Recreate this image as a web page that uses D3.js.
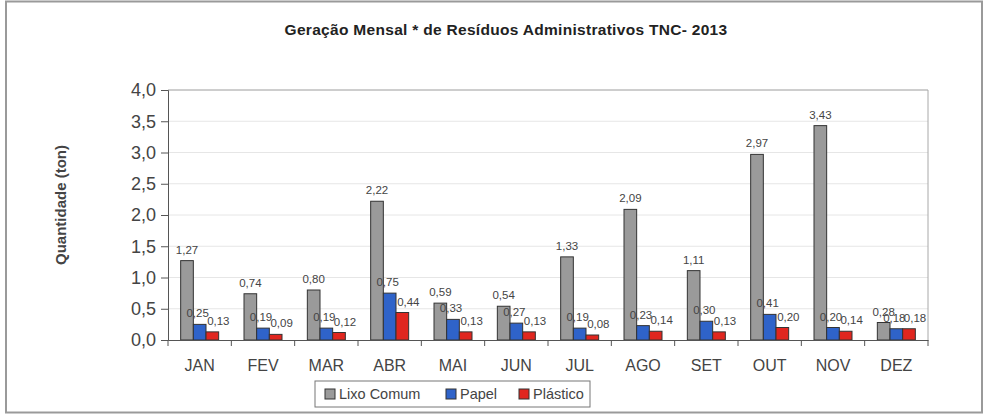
<!DOCTYPE html>
<html>
<head>
<meta charset="utf-8">
<script src="https://cdn.jsdelivr.net/npm/d3@7"></script>
<style>
  body { margin: 0; background: #fff; }
  svg { font-family: "Liberation Sans", Arial, sans-serif; }
</style>
</head>
<body>
<svg width="989" height="416"></svg>
<script>
// dados do grafico
var meses = ["JAN", "FEV", "MAR", "ABR", "MAI", "JUN", "JUL", "AGO", "SET", "OUT", "NOV", "DEZ"]
var lixoComum = [1.27, 0.74, 0.80, 2.22, 0.59, 0.54, 1.33, 2.09, 1.11, 2.97, 3.43, 0.28]
var papel = [0.25, 0.19, 0.19, 0.75, 0.33, 0.27, 0.19, 0.23, 0.30, 0.41, 0.20, 0.18]
var plastico = [0.13, 0.09, 0.12, 0.44, 0.13, 0.13, 0.08, 0.14, 0.13, 0.20, 0.14, 0.18]
var series = ["Lixo Comum", "Papel", "Plástico"]
var yTicks = [0, 0.5, 1, 1.5, 2, 2.5, 3, 3.5, 4]

var cores = ["#9a9a9a", "#2f63c9", "#e0261f"]
var fmt = function (v) { return d3.format(".2f")(v).replace(".", ",") }

var svg = d3.select("svg")

// moldura externa
svg.append("rect")
    .attr("x", 6).attr("y", 1.5).attr("width", 976).attr("height", 411)
    .attr("fill", "none").attr("stroke", "#9a9a9a").attr("stroke-width", 2)

var pLeft = 168, pRight = 928, pTop = 90, pBottom = 340

var x = d3.scaleBand().domain(meses).range([pLeft, pRight])
var xs = d3.scaleBand().domain(series).range([0, 38])
var y = d3.scaleLinear().domain([0, 4]).range([pBottom, pTop])

// grade
svg.append("g")
    .selectAll("line")
    .data(yTicks.slice(1))
    .enter()
    .append("line")
    .attr("x1", pLeft).attr("x2", pRight)
    .attr("y1", function (d) { return y(d) })
    .attr("y2", function (d) { return y(d) })
    .attr("stroke", "#e6e6e6")

// borda da area de plotagem (topo e direita)
svg.append("path")
    .attr("d", "M" + pLeft + "," + pTop + "H" + pRight + "V" + pBottom)
    .attr("fill", "none").attr("stroke", "#a8a8a8")

var data = meses.map(function (m, i) {
    return { mes: m, vals: [lixoComum[i], papel[i], plastico[i]] }
})

var g = svg.selectAll(".grupo")
    .data(data)
    .enter()
    .append("g")
    .attr("class", "grupo")
    .attr("transform", function (d) {
        return "translate(" + (x(d.mes) + x.bandwidth() / 2 - 19) + ",0)"
    })

g.selectAll("rect")
    .data(function (d) { return d.vals })
    .enter()
    .append("rect")
    .attr("x", function (d, i) { return xs(series[i]) })
    .attr("width", xs.bandwidth())
    .attr("y", function (d) { return y(d) })
    .attr("height", function (d) { return pBottom - y(d) })
    .attr("fill", function (d, i) { return cores[i] })
    .attr("stroke", "#333")
    .attr("stroke-width", 1)

var desloc = [0, -2, 6]
g.selectAll("text")
    .data(function (d) { return d.vals })
    .enter()
    .append("text")
    .attr("x", function (d, i) { return xs(series[i]) + xs.bandwidth() / 2 + desloc[i] })
    .attr("y", function (d) { return y(d) - 7 })
    .attr("text-anchor", "middle")
    .attr("font-size", 11.5)
    .attr("fill", "#444")
    .text(function (d) { return fmt(d) })

// eixo x
var xAxis = svg.append("g")
    .attr("transform", "translate(0," + pBottom + ")")
    .call(d3.axisBottom(x).tickSize(0).tickPadding(20))
xAxis.select(".domain").attr("stroke", "#555")
xAxis.selectAll("text").attr("font-size", 16).attr("fill", "#444")
    .style("font-family", "'Liberation Sans', Arial, sans-serif")

// marcas entre categorias
svg.append("g")
    .selectAll("line")
    .data(meses.concat(["fim"]))
    .enter()
    .append("line")
    .attr("x1", function (d, i) { return pLeft + i * x.step() })
    .attr("x2", function (d, i) { return pLeft + i * x.step() })
    .attr("y1", pBottom).attr("y2", pBottom + 6)
    .attr("stroke", "#555")

// eixo y
var yAxis = svg.append("g")
    .attr("transform", "translate(" + pLeft + ",0)")
    .call(d3.axisLeft(y).tickValues(yTicks).tickSize(7).tickPadding(5)
        .tickFormat(function (d) { return d3.format(".1f")(d).replace(".", ",") }))
yAxis.select(".domain").attr("stroke", "#555")
yAxis.selectAll("line").attr("stroke", "#555")
yAxis.selectAll("text").attr("font-size", 18).attr("fill", "#444")
    .style("font-family", "'Liberation Sans', Arial, sans-serif")

svg.append("text")
    .attr("transform", "translate(66,205) rotate(-90)")
    .attr("text-anchor", "middle")
    .attr("font-size", 15)
    .attr("font-weight", "bold")
    .attr("fill", "#444")
    .text("Quantidade (ton)")

// titulo
svg.append("text")
    .attr("x", 506).attr("y", 35)
    .attr("text-anchor", "middle")
    .attr("font-size", 15.5)
    .attr("font-weight", "bold")
    .attr("letter-spacing", 0.3)
    .attr("fill", "#222")
    .text("Geração Mensal * de Resíduos Administrativos TNC- 2013")

// legenda
var leg = svg.append("g").attr("transform", "translate(315,381)")
leg.append("rect")
    .attr("width", 275).attr("height", 26)
    .attr("fill", "#fff").attr("stroke", "#777")
var legX = [10, 131, 204]
var item = leg.selectAll(".item")
    .data(series)
    .enter()
    .append("g")
    .attr("transform", function (d, i) { return "translate(" + legX[i] + ",8)" })
item.append("rect")
    .attr("width", 10).attr("height", 10)
    .attr("fill", function (d, i) { return cores[i] })
    .attr("stroke", "#333")
item.append("text")
    .attr("x", 14).attr("y", 10)
    .attr("font-size", 14.5)
    .attr("fill", "#444")
    .text(function (d) { return d })
</script>
</body>
</html>
